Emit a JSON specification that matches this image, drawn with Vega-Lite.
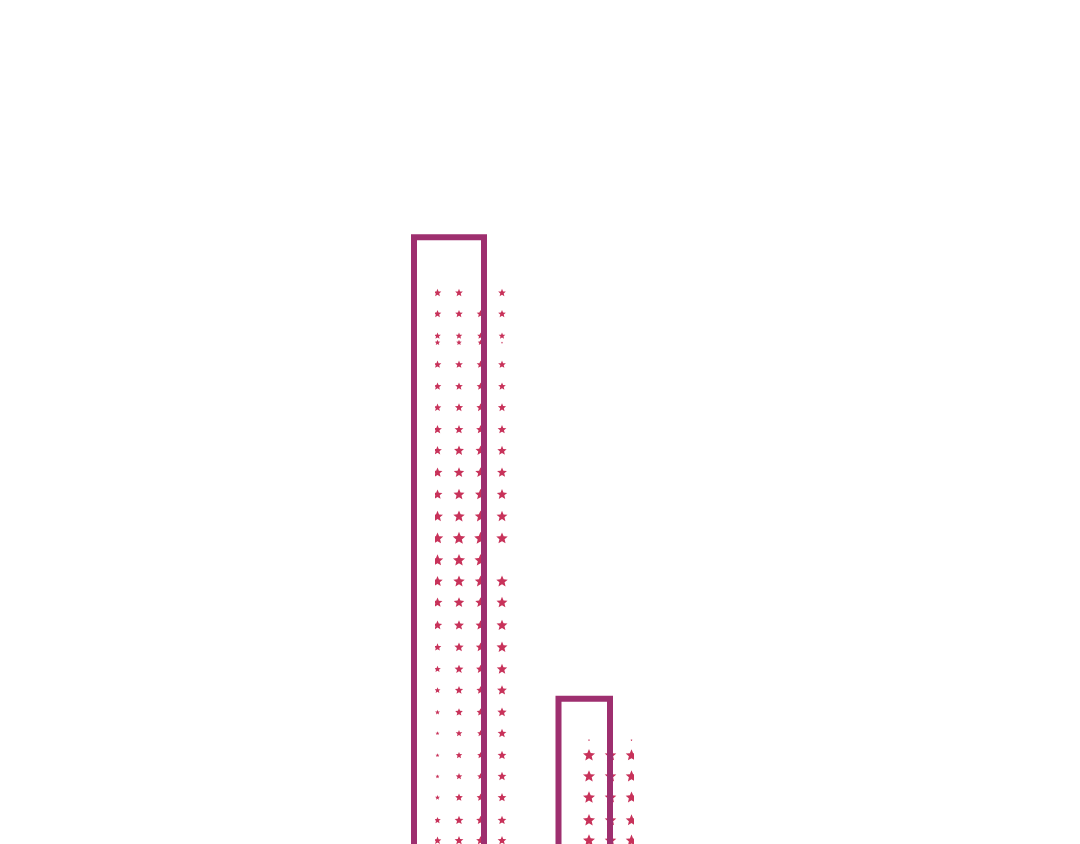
{
  "$schema": "https://vega.github.io/schema/vega-lite/v6.json",
  "autosize": "none",
  "padding": {"left": 435, "top": 0, "right": 446, "bottom": 0},
  "width": 199,
  "height": 844,
  "background": "white",
  "config": {"view": {"stroke": null}},
  "datasets": {
    "bars": [
      {"bar": "A", "start": -2.1, "end": 4.9, "value": 71.9},
      {"bar": "B", "start": 12.35, "end": 17.5, "value": 17.2}
    ],
    "stars": [
      {"x": 0.25, "y": 65.3, "s": 65}, {"x": 2.4, "y": 65.3, "s": 65}, {"x": 6.7, "y": 65.3, "s": 65},
      {"x": 0.25, "y": 62.8, "s": 65}, {"x": 2.4, "y": 62.8, "s": 65}, {"x": 4.55, "y": 62.8, "s": 65}, {"x": 6.7, "y": 62.8, "s": 65},
      {"x": 0.25, "y": 60.2, "s": 48}, {"x": 2.4, "y": 60.2, "s": 48}, {"x": 4.55, "y": 60.2, "s": 48}, {"x": 6.7, "y": 60.2, "s": 48},
      {"x": 0.25, "y": 59.4, "s": 34}, {"x": 2.4, "y": 59.4, "s": 34}, {"x": 4.55, "y": 59.4, "s": 34}, {"x": 6.7, "y": 59.4, "s": 5},
      {"x": 0.25, "y": 56.8, "s": 65}, {"x": 2.4, "y": 56.8, "s": 65}, {"x": 4.55, "y": 56.8, "s": 65}, {"x": 6.7, "y": 56.8, "s": 65},
      {"x": 0.25, "y": 54.2, "s": 65}, {"x": 2.4, "y": 54.2, "s": 65}, {"x": 4.55, "y": 54.2, "s": 65}, {"x": 6.7, "y": 54.2, "s": 65},
      {"x": 0.25, "y": 51.7, "s": 65}, {"x": 2.4, "y": 51.7, "s": 74}, {"x": 4.55, "y": 51.7, "s": 74}, {"x": 6.7, "y": 51.7, "s": 74},
      {"x": 0.25, "y": 49.1, "s": 85}, {"x": 2.4, "y": 49.1, "s": 85}, {"x": 4.55, "y": 49.1, "s": 85}, {"x": 6.7, "y": 49.1, "s": 85},
      {"x": 0.25, "y": 46.6, "s": 85}, {"x": 2.4, "y": 46.6, "s": 108}, {"x": 4.55, "y": 46.6, "s": 108}, {"x": 6.7, "y": 46.6, "s": 96},
      {"x": 0.25, "y": 44.0, "s": 108}, {"x": 2.4, "y": 44.0, "s": 120}, {"x": 4.55, "y": 44.0, "s": 120}, {"x": 6.7, "y": 44.0, "s": 108},
      {"x": 0.25, "y": 41.4, "s": 108}, {"x": 2.4, "y": 41.4, "s": 133}, {"x": 4.55, "y": 41.4, "s": 133}, {"x": 6.7, "y": 41.4, "s": 120},
      {"x": 0.25, "y": 38.8, "s": 133}, {"x": 2.4, "y": 38.8, "s": 146}, {"x": 4.55, "y": 38.8, "s": 146}, {"x": 6.7, "y": 38.8, "s": 133},
      {"x": 0.25, "y": 36.2, "s": 146}, {"x": 2.4, "y": 36.2, "s": 175}, {"x": 4.55, "y": 36.2, "s": 175}, {"x": 6.7, "y": 36.2, "s": 146},
      {"x": 0.25, "y": 33.6, "s": 146}, {"x": 2.4, "y": 33.6, "s": 161}, {"x": 4.55, "y": 33.6, "s": 161},
      {"x": 0.25, "y": 31.1, "s": 120}, {"x": 2.4, "y": 31.1, "s": 146}, {"x": 4.55, "y": 31.1, "s": 146}, {"x": 6.7, "y": 31.1, "s": 146},
      {"x": 0.25, "y": 28.6, "s": 108}, {"x": 2.4, "y": 28.6, "s": 120}, {"x": 4.55, "y": 28.6, "s": 120}, {"x": 6.7, "y": 28.6, "s": 133},
      {"x": 0.25, "y": 25.9, "s": 96}, {"x": 2.4, "y": 25.9, "s": 108}, {"x": 4.55, "y": 25.9, "s": 108}, {"x": 6.7, "y": 25.9, "s": 133},
      {"x": 0.25, "y": 23.3, "s": 65}, {"x": 2.4, "y": 23.3, "s": 96}, {"x": 4.55, "y": 23.3, "s": 96}, {"x": 6.7, "y": 23.3, "s": 133},
      {"x": 0.25, "y": 20.7, "s": 48}, {"x": 2.4, "y": 20.7, "s": 85}, {"x": 4.55, "y": 20.7, "s": 85}, {"x": 6.7, "y": 20.7, "s": 120},
      {"x": 0.25, "y": 18.2, "s": 40}, {"x": 2.4, "y": 18.2, "s": 74}, {"x": 4.55, "y": 18.2, "s": 74}, {"x": 6.7, "y": 18.2, "s": 108},
      {"x": 0.25, "y": 15.6, "s": 26}, {"x": 2.4, "y": 15.6, "s": 65}, {"x": 4.55, "y": 15.6, "s": 65}, {"x": 6.7, "y": 15.6, "s": 96},
      {"x": 0.25, "y": 13.1, "s": 17}, {"x": 2.4, "y": 13.1, "s": 48}, {"x": 4.55, "y": 13.1, "s": 48}, {"x": 6.7, "y": 13.1, "s": 85},
      {"x": 0.25, "y": 10.5, "s": 17}, {"x": 2.4, "y": 10.5, "s": 48}, {"x": 4.55, "y": 10.5, "s": 48}, {"x": 6.7, "y": 10.5, "s": 85},
      {"x": 0.25, "y": 8.0, "s": 17}, {"x": 2.4, "y": 8.0, "s": 48}, {"x": 4.55, "y": 8.0, "s": 48}, {"x": 6.7, "y": 8.0, "s": 85},
      {"x": 0.25, "y": 5.5, "s": 26}, {"x": 2.4, "y": 5.5, "s": 65}, {"x": 4.55, "y": 5.5, "s": 65}, {"x": 6.7, "y": 5.5, "s": 85},
      {"x": 0.25, "y": 2.8, "s": 48}, {"x": 2.4, "y": 2.8, "s": 85}, {"x": 4.55, "y": 2.8, "s": 85}, {"x": 6.7, "y": 2.8, "s": 85},
      {"x": 0.25, "y": 0.4, "s": 65}, {"x": 2.4, "y": 0.4, "s": 85}, {"x": 4.55, "y": 0.4, "s": 85}, {"x": 6.7, "y": 0.4, "s": 85},
      {"x": 15.4, "y": 12.3, "s": 5}, {"x": 17.55, "y": 12.3, "s": 5}, {"x": 19.65, "y": 12.3, "s": 5},
      {"x": 15.4, "y": 10.5, "s": 160}, {"x": 17.55, "y": 10.5, "s": 150}, {"x": 19.65, "y": 10.5, "s": 150},
      {"x": 15.4, "y": 8.0, "s": 160}, {"x": 17.55, "y": 8.0, "s": 150}, {"x": 19.65, "y": 8.0, "s": 150},
      {"x": 15.4, "y": 5.5, "s": 160}, {"x": 17.55, "y": 5.5, "s": 150}, {"x": 19.65, "y": 5.5, "s": 150},
      {"x": 15.4, "y": 2.8, "s": 160}, {"x": 17.55, "y": 2.8, "s": 150}, {"x": 19.65, "y": 2.8, "s": 150},
      {"x": 15.4, "y": 0.4, "s": 160}, {"x": 17.55, "y": 0.4, "s": 150}, {"x": 19.65, "y": 0.4, "s": 150}
    ]
  },
  "layer": [
    {
      "data": {"name": "stars"},
      "mark": {
        "type": "point",
        "shape": "M0,-1L0.2645,-0.364L0.951,-0.309L0.428,0.139L0.588,0.809L0,0.45L-0.588,0.809L-0.428,0.139L-0.951,-0.309L-0.2645,-0.364Z",
        "filled": true,
        "color": "#C8325A",
        "opacity": 1,
        "clip": true
      },
      "encoding": {
        "x": {"field": "x", "type": "quantitative", "scale": {"domain": [0, 19.9], "nice": false, "zero": false}, "axis": null},
        "y": {"field": "y", "type": "quantitative", "scale": {"domain": [0, 100], "nice": false}, "axis": null},
        "size": {"field": "s", "type": "quantitative", "scale": null}
      }
    },
    {
      "data": {"name": "bars"},
      "mark": {"type": "rect", "filled": false, "color": "#9E2F6F", "strokeWidth": 6, "opacity": 1},
      "encoding": {
        "x": {"field": "start", "type": "quantitative"},
        "x2": {"field": "end"},
        "y": {"field": "value", "type": "quantitative"},
        "y2": {"datum": -0.5}
      }
    }
  ]
}
